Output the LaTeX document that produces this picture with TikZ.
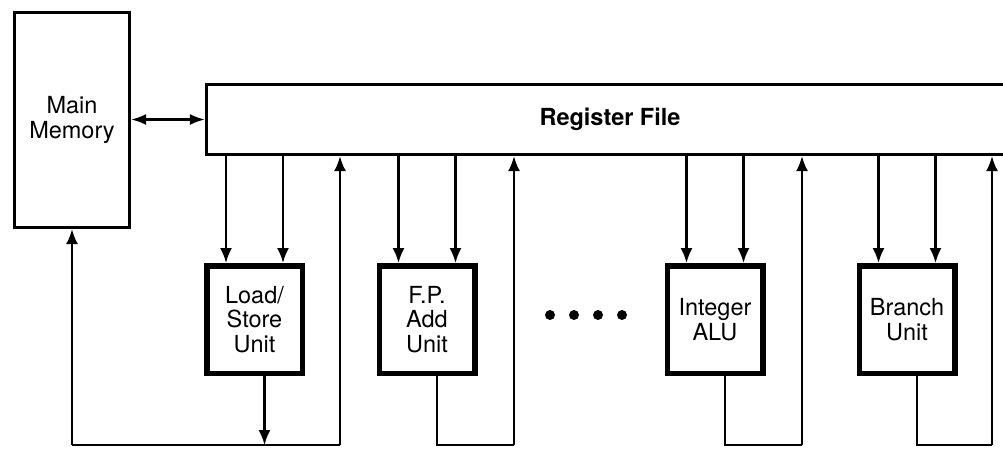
\documentclass[tikz,border=0pt]{standalone}
\usepackage{fontspec}
\setmainfont{TeX Gyre Heros}
\usetikzlibrary{arrows.meta,calc}
\begin{document}
\begin{tikzpicture}[x=1pt,y=-1pt,
  every node/.style={font=\fontsize{23.5}{24.5}\selectfont, align=center, inner sep=0pt},
  bigbox/.style={draw, line width=3.2pt},
  unit/.style={draw, line width=5.5pt, minimum width=95.5pt, minimum height=107.5pt},
  conn/.style={line width=2.1pt},
  arr/.style={conn, -{Latex[length=15pt,width=12pt]}},
  arrboth/.style={conn, {Latex[length=15pt,width=11pt]}-{Latex[length=15pt,width=11pt]}},
  dot/.style={fill, circle, minimum size=10pt, inner sep=0pt}
]
\useasboundingbox (0,0) rectangle (1003,448);
\clip (0,0) rectangle (1003,448);

% main blocks
\node[bigbox, minimum width=115pt, minimum height=215pt] (mm) at (72,120) {Main\\Memory};
\node[bigbox, minimum width=807pt, minimum height=70pt] (rf) at (610,119.5) {\bfseries Register File};

% functional units
\node[unit] (ls) at (254.5,319.5) {Load/\\Store\\Unit};
\node[unit] (fp) at (427,319.5) {F.P.\\Add\\Unit};
\node[unit] (ia) at (715,319.5) {Integer\\ALU};
\node[unit] (bu) at (907,319.5) {Branch\\Unit};

% ellipsis dots
\node[dot] (d1) at (550,315) {};
\node[dot] (d2) at (574,315) {};
\node[dot] (d3) at (598,315) {};
\node[dot] (d4) at (622,315) {};

% memory <-> register file
\draw[arrboth] (mm.east |- rf.west) -- (rf.west);

% operand buses into units
\foreach \u in {ls,fp,ia,bu} {
  \coordinate (\u inA) at ($(\u.north)+(-28.5,0)$);
  \coordinate (\u inB) at ($(\u.north)+(28.5,0)$);
  \draw[arr] (rf.south -| \u inA) -- (\u inA);
  \draw[arr] (rf.south -| \u inB) -- (\u inB);
  \coordinate (\u out) at ($(\u.south)+(10,0)$);
}

% result buses
\coordinate (bot) at (0,445);
\coordinate (mmb) at (mm.south |- bot);
\coordinate (r1) at (340,445);
\coordinate (r2) at (514,445);
\coordinate (r3) at (802,445);
\coordinate (r4) at (992,445);

% load/store loop
\draw[arr] (lsout) -- (lsout |- bot);
\draw[conn] (mmb) -- (r1);
\draw[arr] (mmb) -- (mm.south);
\draw[arr] (r1) -- (r1 |- rf.south);

% other units
\draw[conn] (fpout) -- (fpout |- bot) -- (r2);
\draw[arr] (r2) -- (r2 |- rf.south);
\draw[conn] (iaout) -- (iaout |- bot) -- (r3);
\draw[arr] (r3) -- (r3 |- rf.south);
\draw[conn] (buout) -- (buout |- bot) -- (r4);
\draw[arr] (r4) -- (r4 |- rf.south);
\end{tikzpicture}
\end{document}
